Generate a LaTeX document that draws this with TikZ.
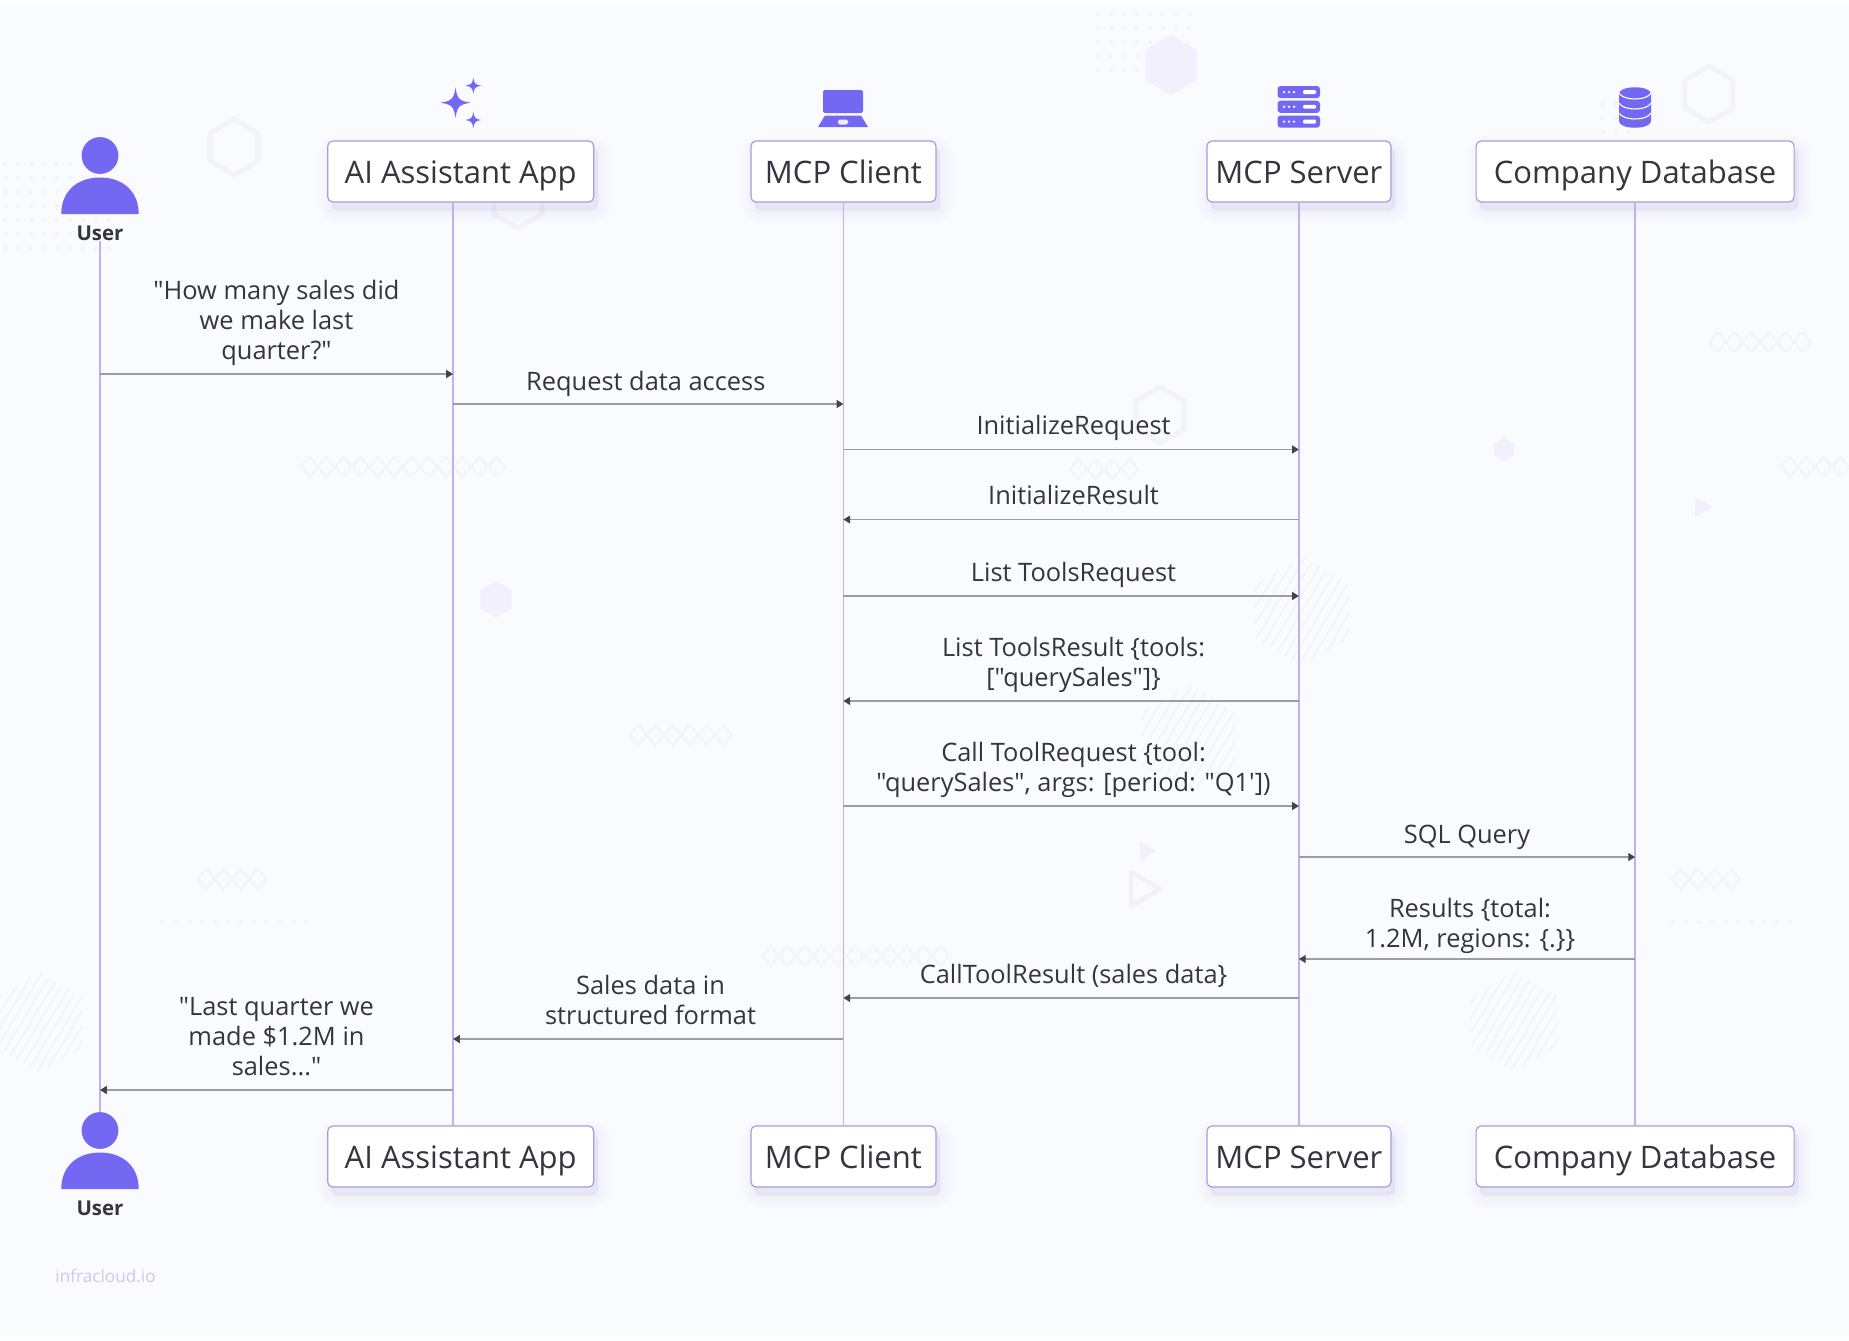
\documentclass[tikz,border=0pt]{standalone}
\usepackage{fontspec}
\setmainfont{Open Sans}[Ligatures=TeXOff]
\usetikzlibrary{arrows.meta,positioning}
\definecolor{pagebg}{HTML}{FAFBFF}
\definecolor{iconpurple}{HTML}{7468F2}
\definecolor{lineviolet}{HTML}{B9B4EA}
\definecolor{boxviolet}{HTML}{A39DDD}
\definecolor{shadowviolet}{HTML}{8F88D8}
\definecolor{msggrey}{HTML}{9C9CA6}
\definecolor{tipgrey}{HTML}{44444F}
\definecolor{textdark}{HTML}{35353F}
\definecolor{brandviolet}{HTML}{CBC9EC}
\definecolor{decorfill}{HTML}{F1F0FC}
\definecolor{decorring}{HTML}{F3F3FC}
\definecolor{decorline}{HTML}{F4F4FB}
\definecolor{decordot}{HTML}{F4F4FB}
\tikzset{
  softlayer/.style={preaction={draw=shadowviolet, fill=shadowviolet, opacity=0.016, line width=#1, transform canvas={xshift=2pt,yshift=-4pt}}},
  actor/.style={softlayer=13pt, softlayer=10pt, softlayer=7.5pt, softlayer=5pt, softlayer=3pt, softlayer=1pt,
    draw=boxviolet, line width=0.6pt, fill=white, rounded corners=2.5pt, minimum height=30.5pt, inner sep=0pt,
    text height=13.25pt, text depth=1.35pt,
    font=\fontsize{15.5}{18}\selectfont, text=textdark},
  actorname/.style={font=\fontsize{10.2}{12}\selectfont\bfseries, text=textdark, inner sep=0pt},
  msglabel/.style={font=\fontsize{12.7}{15}\selectfont, text=textdark, align=center, inner sep=0pt, anchor=base, yshift=7.3pt},
  lifeline/.style={draw=lineviolet, line width=0.65pt},
  msg/.style={-{Triangle[length=3.4pt,width=4pt,color=tipgrey,fill=tipgrey]}, every edge/.append style={draw=msggrey, line width=0.7pt}},
  decorstroke/.style={draw=decorline, line width=1pt},
  pics/usericon/.style={code={
    \fill[iconpurple] (0,0) circle [radius=9.2pt];
    \fill[iconpurple] (-38.7,58.5) .. controls (-38.7,35) and (-22,22) .. (0,22) .. controls (22,22) and (38.7,35) .. (38.7,58.5) -- cycle;
  }},
  pics/sparkle/.style={code={
    \fill[iconpurple] (0,-#1) .. controls (0.12*#1,-0.25*#1) and (0.25*#1,-0.12*#1) .. (#1,0) .. controls (0.25*#1,0.12*#1) and (0.12*#1,0.25*#1) .. (0,#1) .. controls (-0.12*#1,0.25*#1) and (-0.25*#1,0.12*#1) .. (-#1,0) .. controls (-0.25*#1,-0.12*#1) and (-0.12*#1,-0.25*#1) .. (0,-#1) -- cycle;
  }},
  pics/hexring/.style={code={
    \draw[draw=decorring, line width=2.4pt, line join=round] (0,-28) -- (24,-14) -- (24,14) -- (0,28) -- (-24,14) -- (-24,-14) -- cycle;
  }},
  pics/hexsolid/.style={code={
    \fill[decorfill] (0,-28) -- (24,-14) -- (24,14) -- (0,28) -- (-24,14) -- (-24,-14) -- cycle;
  }},
  pics/hexstripes/.style={code={
    \begin{scope}
      \clip (0,-28) -- (24,-14) -- (24,14) -- (0,28) -- (-24,14) -- (-24,-14) -- cycle;
      \foreach \k in {-60,-55,...,60}
        \draw[decorline, line width=0.9pt] (\k-18,30) -- (\k+18,-30);
    \end{scope}
  }},
  pics/diamonds/.style={code={
    \foreach \i in {1,...,#1}
      \draw[decorstroke] (\i*17-17,0) -- (\i*17-8.5,-10) -- (\i*17,0) -- (\i*17-8.5,10) -- cycle;
  }},
  pics/dotgrid/.style args={#1 by #2}{code={
    \foreach \i in {1,...,#1}
      \foreach \j in {1,...,#2}
        \fill[decordot] (\i*13,\j*14) circle [radius=1pt];
  }}
}
\begin{document}
\begin{tikzpicture}[x=0.5pt,y=-0.5pt]
\useasboundingbox (0,0) rectangle (1849,1340);
\fill[white] (0,0) rectangle (1849,1340);
\fill[pagebg] (0,4) rectangle (1849,1336);

% faint backdrop
\pic at (1085,0) {dotgrid=8 by 5};
\pic at (-8,150) {dotgrid=9 by 7};
\pic at (1590,90) {dotgrid=3 by 4};
\pic at (150,908) {dotgrid=12 by 1};
\pic at (1660,908) {dotgrid=10 by 1};
\pic[scale=1.08] at (1171,65) {hexsolid};
\pic[scale=0.65] at (496,599) {hexsolid};
\pic[scale=0.42] at (1504,449) {hexsolid};
\pic at (1709,94) {hexring};
\pic at (234,147) {hexring};
\pic at (518,200) {hexring};
\pic at (1160,415) {hexring};
\pic[scale=1.95] at (1302,611) {hexstripes};
\pic[scale=1.95] at (1188,739) {hexstripes};
\pic[scale=1.8] at (1514,1021) {hexstripes};
\pic[scale=1.8] at (39,1023) {hexstripes};
\pic at (301,467) {diamonds=12};
\pic at (1070,469) {diamonds=4};
\pic at (630,735) {diamonds=6};
\pic at (1709,342) {diamonds=6};
\pic at (1781,467) {diamonds=5};
\pic at (762,956) {diamonds=11};
\pic at (198,879) {diamonds=4};
\pic at (1672,879) {diamonds=4};
\fill[decorfill] (1695,497) -- (1712,507) -- (1695,517) -- cycle;
\fill[decorfill] (1140,841) -- (1156,851) -- (1140,862) -- cycle;
\draw[decorfill, line width=2pt, line join=round] (1131,872) -- (1160,889) -- (1131,906) -- cycle;

% actors, top row
\node[actor, minimum width=133pt](appTop) at (460.7,171.5){AI Assistant App};
\node[actor, minimum width=92.5pt](clientTop)[right = 78pt of appTop]{MCP Client};
\node[actor, minimum width=92pt](serverTop)[right = 134.9pt of clientTop]{MCP Server};
\node[actor, minimum width=159pt](dbTop)[right = 42pt of serverTop]{Company Database};

% actors, bottom row
\node[actor, minimum width=133pt](appBot)[below = 461.4pt of appTop]{AI Assistant App};
\node[actor, minimum width=92.5pt](clientBot)[below = 461.4pt of clientTop]{MCP Client};
\node[actor, minimum width=92pt](serverBot)[below = 461.4pt of serverTop]{MCP Server};
\node[actor, minimum width=159pt](dbBot)[below = 461.4pt of dbTop]{Company Database};

% user at both ends
\pic at (100,155.5) {usericon};
\node[actorname](userTop) at (100,233){User};
\pic at (100,1130.5) {usericon};
\node[actorname](userBot) at (100,1208){User};
\coordinate (userFoot) at (100,1112);
\coordinate (appLine) at (453,202);
\coordinate (appFoot) at (453,1125);

% icons over the boxes
\pic at (455.5,102.7) {sparkle=15};
\pic at (473.3,85.7) {sparkle=8};
\pic at (473.3,120) {sparkle=8};

\fill[iconpurple, rounded corners=0.8pt] (823,90) rectangle (863,113);
\fill[iconpurple] (825,115.5) -- (861,115.5) -- (868,127) -- (818,127) -- cycle;
\fill[white!88!iconpurple, rounded corners=0.8pt] (838,119.5) rectangle (848,124.5);

\foreach \y in {86,100.7,115.5}{
  \fill[iconpurple, rounded corners=1.6pt] (1277.5,\y) rectangle (1320,\y+12.2);
  \foreach \x in {1284,1289,1294}
    \fill[white] (\x,\y+6.1) circle [radius=0.65pt];
  \fill[white, rounded corners=0.6pt] (1303,\y+4.2) rectangle (1316,\y+8);
}

\fill[iconpurple] (1619,94) -- (1619,121) .. controls (1619,130) and (1651,130) .. (1651,121) -- (1651,94) .. controls (1651,85) and (1619,85) .. (1619,94) -- cycle;
\foreach \y in {93,103,113}
  \draw[white, line width=0.55pt] (1619,\y) .. controls (1623,\y+8) and (1647,\y+8) .. (1651,\y);

% lifelines
\draw[lifeline] (userTop.south) -- (userFoot);
\draw[lifeline] (appLine) -- (appFoot);
\draw[lifeline] (clientTop.south) -- (clientBot.north);
\draw[lifeline] (serverTop.south) -- (serverBot.north);
\draw[lifeline] (dbTop.south) -- (dbBot.north);

% message levels
\coordinate (m1) at (0,374);
\coordinate (m2) at (0,404);
\coordinate (m3) at (0,449.5);
\coordinate (m4) at (0,519.5);
\coordinate (m5) at (0,596);
\coordinate (m6) at (0,701);
\coordinate (m7) at (0,806);
\coordinate (m8) at (0,857);
\coordinate (m9) at (0,959);
\coordinate (m10) at (0,998);
\coordinate (m11) at (0,1039);
\coordinate (m12) at (0,1090);

\path[msg]
	(userTop |- m1) edge node[msglabel](l1){"How many sales did\\we make last\\quarter?"} (appLine |- m1)
	(appLine |- m2) edge node[msglabel, xshift=-1.2pt, yshift=-0.5pt](l2){Request data access} (clientTop |- m2)
	(clientTop |- m3) edge node[msglabel, xshift=1.2pt](l3){InitializeRequest} (serverTop |- m3)
	(serverTop |- m4) edge node[msglabel, xshift=1.2pt](l4){InitializeResult} (clientTop |- m4)
	(clientTop |- m5) edge node[msglabel, xshift=1.2pt](l5){List ToolsRequest} (serverTop |- m5)
	(serverTop |- m6) edge node[msglabel, xshift=1.2pt](l6){List ToolsResult \{tools:\\{}["querySales"]\}} (clientTop |- m6)
	(clientTop |- m7) edge node[msglabel, xshift=1.2pt](l7){Call ToolRequest \{tool:\\"querySales", args: [period: "Q1'])} (serverTop |- m7)
	(serverTop |- m8) edge node[msglabel, yshift=-0.6pt](l8){SQL Query} (dbTop |- m8)
	(dbTop |- m9) edge node[msglabel, xshift=1.5pt, yshift=-1.4pt](l9){Results \{total:\\1.2M, regions: \{.\}\}} (serverTop |- m9)
	(serverTop |- m10) edge node[msglabel, xshift=1.2pt](l10){CallToolResult (sales data\}} (clientTop |- m10)
	(clientTop |- m11) edge node[msglabel, xshift=1.2pt](l11){Sales data in\\structured format} (appLine |- m11)
	(appLine |- m12) edge node[msglabel](l12){"Last quarter we\\made \$1.2M in\\sales..."} (userTop |- m12);

\node[font=\fontsize{8.6}{10}\selectfont, text=brandviolet, inner sep=0pt, anchor=west](brand) at (55,1276){infracloud.io};
\end{tikzpicture}
\end{document}
